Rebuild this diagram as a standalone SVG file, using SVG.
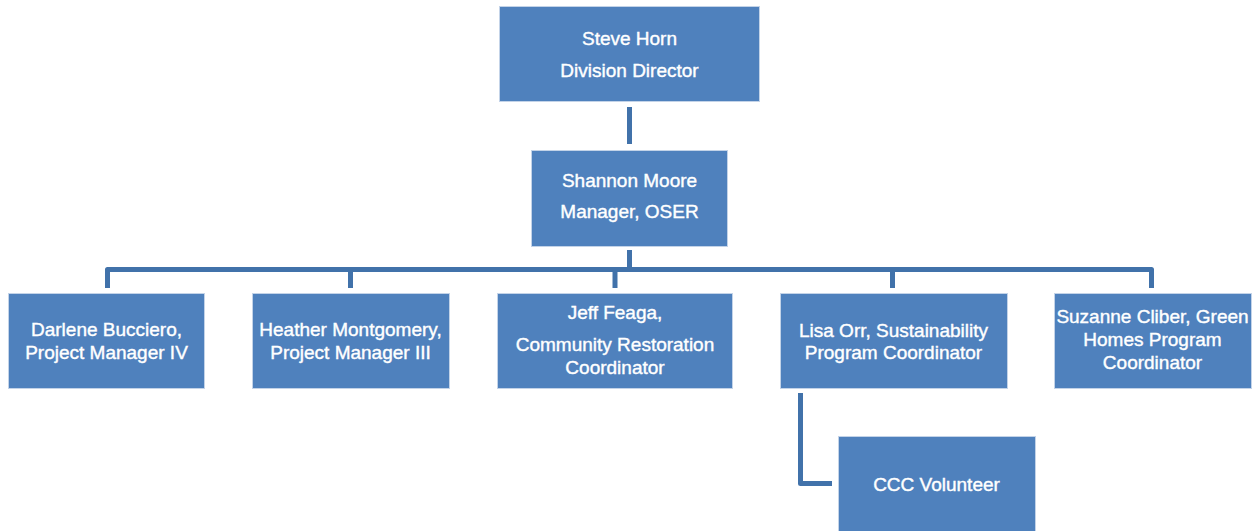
<svg xmlns="http://www.w3.org/2000/svg" width="1256" height="531" viewBox="0 0 1256 531">
<style>
.box{fill:#4F81BD;stroke:#C3D3E8;stroke-width:1}
.t{font-family:"Liberation Sans",Arial,sans-serif;font-size:19px;fill:#FFFFFF;stroke:#FFFFFF;stroke-width:0.4;text-anchor:middle}
.c{fill:none;stroke:#4172AA;stroke-width:5;stroke-linejoin:round}
</style>
<rect width="1256" height="531" fill="#FFFFFF"/>
<g id="connectors">
<path class="c" d="M629.5 107 V144"/>
<path class="c" d="M629.5 250 V269.5"/>
<path class="c" d="M107.5 288 V269.5 H1151.5 V288"/>
<path class="c" d="M350.5 269.5 V288"/>
<path class="c" d="M615 269.5 V288"/>
<path class="c" d="M892.5 269.5 V288"/>
<path class="c" d="M800.5 393 V483.5 H832"/>
</g>
<g id="steve">
<rect class="box" x="499.5" y="6.5" width="260" height="95"/>
<text class="t" x="629.5" y="45">Steve Horn</text>
<text class="t" x="629.5" y="77">Division Director</text>
</g>
<g id="shannon">
<rect class="box" x="531.5" y="150.5" width="196" height="96"/>
<text class="t" x="629.5" y="187">Shannon Moore</text>
<text class="t" x="629.5" y="218">Manager, OSER</text>
</g>
<g id="darlene">
<rect class="box" x="8.5" y="293.5" width="196" height="95"/>
<text class="t" x="106.5" y="336">Darlene Bucciero,</text>
<text class="t" x="106.5" y="359">Project Manager IV</text>
</g>
<g id="heather">
<rect class="box" x="252.5" y="293.5" width="197" height="95"/>
<text class="t" x="350.5" y="336">Heather Montgomery,</text>
<text class="t" x="350.5" y="359">Project Manager III</text>
</g>
<g id="jeff">
<rect class="box" x="497.5" y="293.5" width="235" height="95"/>
<text class="t" x="615" y="319">Jeff Feaga,</text>
<text class="t" x="615" y="351">Community Restoration</text>
<text class="t" x="615" y="374">Coordinator</text>
</g>
<g id="lisa">
<rect class="box" x="780.5" y="293.5" width="227" height="95"/>
<text class="t" x="893.5" y="337">Lisa Orr, Sustainability</text>
<text class="t" x="893.5" y="359">Program Coordinator</text>
</g>
<g id="suzanne">
<rect class="box" x="1054.5" y="293.5" width="197" height="95"/>
<text class="t" x="1152.5" y="323">Suzanne Cliber, Green</text>
<text class="t" x="1152.5" y="346">Homes Program</text>
<text class="t" x="1152.5" y="369">Coordinator</text>
</g>
<g id="ccc">
<rect class="box" x="838.5" y="436.5" width="197" height="96"/>
<text class="t" x="936.5" y="491">CCC Volunteer</text>
</g>
</svg>
